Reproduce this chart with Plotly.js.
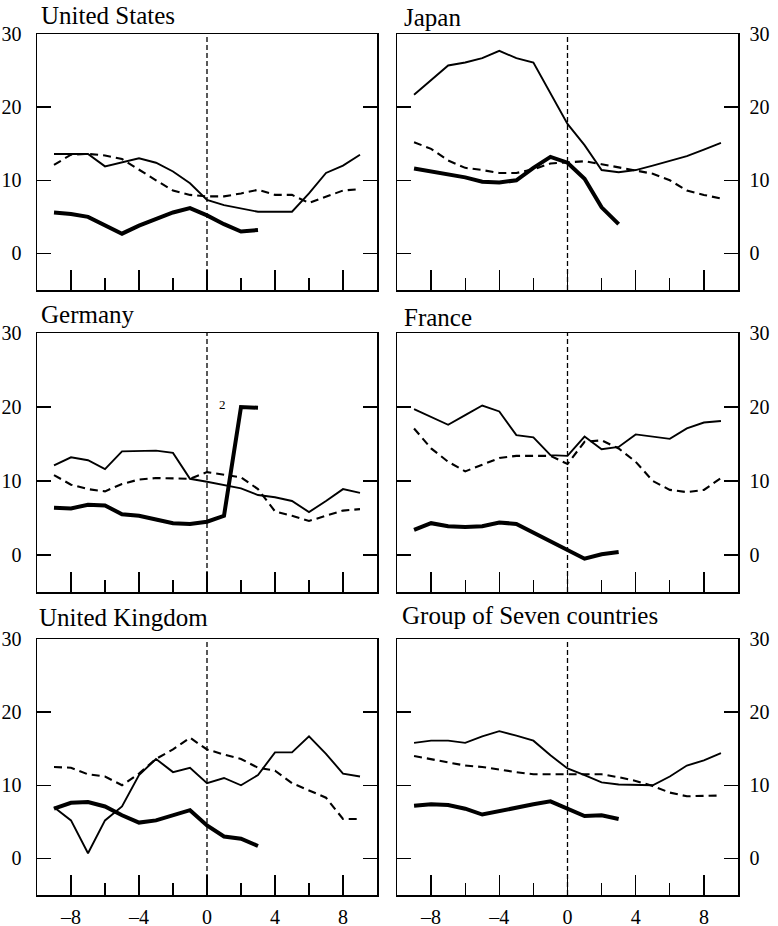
<!DOCTYPE html>
<html>
<head>
<meta charset="utf-8">
<script src="https://cdn.plot.ly/plotly-3.0.1.min.js"></script>
<style>html,body{margin:0;padding:0;background:#fff;}#chart{width:778px;height:926px;}</style>
</head>
<body>
<div id="chart"></div>
<script>
// Quarters relative to event (0)
const quarters = [-9,-8,-7,-6,-5,-4,-3,-2,-1,0,1,2,3,4,5,6,7,8,9];
const quartersShort = [-9,-8,-7,-6,-5,-4,-3,-2,-1,0,1,2,3];
const eventQuarter = 0;

const panelTitles = ["United States","Japan","Germany","France","United Kingdom","Group of Seven countries"];

// Thick solid series (-9..3)
const usThick = [5.6,5.4,5.0,3.9,2.7,3.8,4.7,5.6,6.2,5.2,4.0,3.0,3.2];
const jpThick = [11.6,11.2,10.8,10.4,9.8,9.7,10.0,11.7,13.2,12.4,10.2,6.3,4.0];
const deThick = [6.4,6.3,6.8,6.7,5.5,5.3,4.8,4.3,4.2,4.5,5.3,20.0,19.9];
const frThick = [3.4,4.3,3.9,3.8,3.9,4.4,4.2,3.0,1.8,0.6,-0.5,0.1,0.4];
const ukThick = [6.8,7.6,7.7,7.1,5.9,4.9,5.2,5.9,6.6,4.5,3.0,2.7,1.7];
const g7Thick = [7.2,7.4,7.3,6.8,6.0,6.5,7.0,7.4,7.8,6.8,5.8,5.9,5.4];

// Thin solid series (-9..9)
const usThin = [13.6,13.6,13.6,11.9,12.4,13.0,12.4,11.2,9.6,7.3,6.6,6.2,5.7,5.7,5.7,8.2,11.0,12.0,13.5];
const jpThin = [21.7,23.7,25.7,26.1,26.7,27.7,26.7,26.1,22.0,17.7,14.8,11.4,11.1,11.4,12.0,12.6,13.3,14.2,15.1];
const deThin = [12.1,13.2,12.8,11.6,14.0,14.0,14.1,13.8,10.3,9.9,9.5,9.0,8.1,7.8,7.3,5.8,7.3,8.9,8.4];
const frThin = [19.7,18.7,17.6,18.9,20.2,19.4,16.2,15.9,13.5,13.4,16.0,14.3,14.6,16.3,16.0,15.7,17.1,17.9,18.1];
const ukThin = [7.0,5.2,0.7,5.2,7.1,11.4,13.6,11.8,12.4,10.3,11.0,10.0,11.4,14.5,14.5,16.7,14.3,11.6,11.2];
const g7Thin = [15.8,16.1,16.1,15.8,16.7,17.4,16.8,16.1,14.1,12.3,11.4,10.4,10.1,10.1,10.0,11.2,12.7,13.4,14.4];

// Dashed series (-9..9)
const usDash = [12.1,13.5,13.6,13.4,12.9,11.4,10.0,8.6,8.0,7.8,7.8,8.2,8.7,8.0,8.0,6.9,7.7,8.6,8.8];
const jpDash = [15.2,14.3,12.7,11.7,11.4,11.0,11.0,11.5,12.3,12.4,12.6,12.2,11.8,11.4,10.9,10.0,8.6,8.0,7.5];
const deDash = [10.8,9.5,8.9,8.6,9.6,10.2,10.4,10.3,10.3,11.2,10.8,10.5,8.9,5.9,5.3,4.6,5.3,6.0,6.2];
const frDash = [17.1,14.4,12.6,11.3,12.2,13.1,13.4,13.4,13.4,12.3,15.3,15.5,14.4,12.6,10.0,8.8,8.5,8.8,10.4];
const ukDash = [12.5,12.4,11.5,11.2,10.0,11.6,13.6,14.9,16.5,14.9,14.2,13.6,12.4,12.0,10.3,9.3,8.3,5.4,5.4];
const g7Dash = [14.0,13.6,13.2,12.7,12.5,12.1,11.8,11.5,11.5,11.5,11.6,11.5,11.1,10.6,9.9,9.0,8.5,8.5,8.6];

const yTickVals = [0,10,20,30];
const xMajorTicks = [-8,-4,0,4,8];
const xMinorTicks = [-6,-2,2,6];

const thickSets = [usThick,jpThick,deThick,frThick,ukThick,g7Thick];
const thinSets = [usThin,jpThin,deThin,frThin,ukThin,g7Thin];
const dashSets = [usDash,jpDash,deDash,frDash,ukDash,g7Dash];

const W = 778, H = 926;
const colPx = [[37,377],[397,738]];
const rowPx = [[34,290],[333,592],[639,895]];
const titlePos = [[39,15],[402,17],[39,314],[402,317],[37,617],[400,615]];

const FONT = "'Liberation Serif', 'Times New Roman', Times, serif";
const traces = [];
const layout = {
  width: W, height: H,
  margin: {l:0,r:0,t:0,b:0},
  paper_bgcolor: "#fff", plot_bgcolor: "#fff",
  showlegend: false,
  font: {family: FONT, size: 19, color: "#000"},
  shapes: [], annotations: []
};

for (let i = 0; i < 6; i++) {
  const row = Math.floor(i/2), col = i % 2;
  const n = i + 1;
  const xa = "x" + (n===1?"":n), ya = "y" + (n===1?"":n);
  const xKey = "xaxis" + (n===1?"":n), yKey = "yaxis" + (n===1?"":n);
  traces.push({x: quartersShort, y: thickSets[i], xaxis: xa, yaxis: ya, mode: "lines",
    line: {color: "#000", width: 4}, hoverinfo: "skip"});
  traces.push({x: quarters, y: thinSets[i], xaxis: xa, yaxis: ya, mode: "lines",
    line: {color: "#000", width: 1.9}, hoverinfo: "skip"});
  traces.push({x: quarters, y: dashSets[i], xaxis: xa, yaxis: ya, mode: "lines",
    line: {color: "#000", width: 2.1, dash: "8px,5px"}, hoverinfo: "skip"});

  layout[xKey] = {
    domain: [colPx[col][0]/W, colPx[col][1]/W],
    range: [-10, 10], anchor: ya,
    showgrid: false, zeroline: false,
    showline: true, mirror: true, linecolor: "#000", linewidth: 1.5,
    ticks: "inside", ticklen: 20, tickwidth: 1.3, tickcolor: "#000",
    tickmode: "array", tickvals: xMajorTicks,
    ticktext: xMajorTicks.map(v => v < 0 ? "\u2013" + Math.abs(v) : String(v)),
    minor: {tickmode: "array", tickvals: xMinorTicks, ticks: "inside", ticklen: 12, tickwidth: 1.3, tickcolor: "#000", showgrid: false},
    showticklabels: row === 2,
    tickfont: {family: FONT, size: 20, color: "#000"},
    ticklabelstandoff: 3,
    fixedrange: true
  };
  layout[yKey] = {
    domain: [1 - rowPx[row][1]/H, 1 - rowPx[row][0]/H],
    range: [-5, 30], anchor: xa,
    side: col === 0 ? "left" : "right",
    showgrid: false, zeroline: false,
    showline: true, mirror: "ticks", linecolor: "#000", linewidth: 1.5,
    ticks: "inside", ticklen: 14, tickwidth: 1.3, tickcolor: "#000",
    tickmode: "array", tickvals: yTickVals,
    tickfont: {family: FONT, size: 20, color: "#000"},
    ticklabelstandoff: col === 0 ? 10 : 6,
    fixedrange: true
  };
  layout.shapes.push({type: "line", xref: xa, yref: ya + " domain",
    x0: eventQuarter, x1: eventQuarter, y0: 0, y1: 1,
    line: {color: "#000", width: 1.3, dash: "5px,3px"}});
  layout.annotations.push({text: panelTitles[i], xref: "paper", yref: "paper",
    x: titlePos[i][0]/W, y: 1 - titlePos[i][1]/H, xanchor: "left", yanchor: "middle",
    showarrow: false, font: {family: FONT, size: 25, color: "#000"}});
}
// footnote marker on German series
layout.annotations.push({text: "2", xref: "x3", yref: "y3", x: 0.9, y: 20.3,
  showarrow: false, font: {family: FONT, size: 13, color: "#000"}});

Plotly.newPlot("chart", traces, layout, {displayModeBar: false, staticPlot: true});
</script>
</body>
</html>
